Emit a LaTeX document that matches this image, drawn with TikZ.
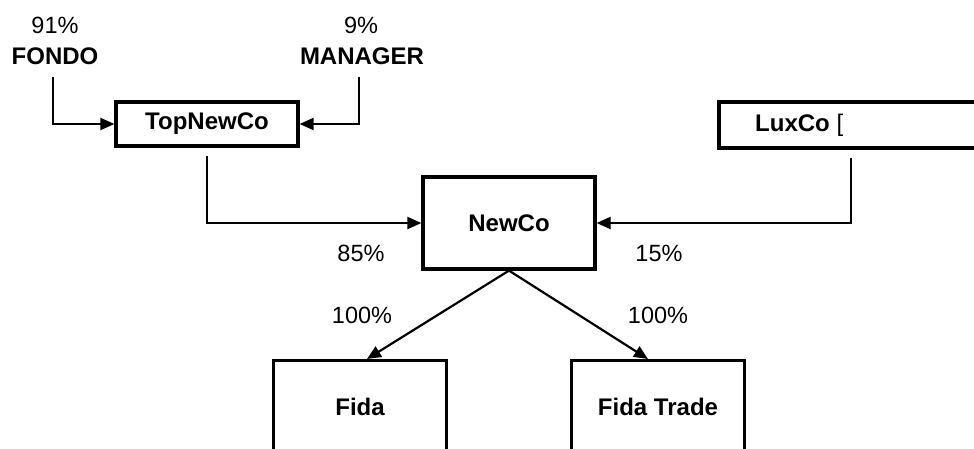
\documentclass[tikz,border=0pt]{standalone}
\usepackage{fontspec}
\setmainfont{Liberation Sans}
\usetikzlibrary{arrows.meta}
\begin{document}
\begin{tikzpicture}[x=1pt,y=-1pt,
  lbl/.style={font=\fontsize{23.5}{27}\selectfont, inner sep=0pt},
  hdr/.style={font=\fontsize{24}{28}\selectfont\bfseries, inner sep=0pt},
  box/.style={draw, line width=3.2pt, font=\fontsize{24}{28}\selectfont\bfseries, inner sep=0pt},
  arr/.style={line width=2.2pt, -{Triangle[length=14pt,width=12pt]}}]
\useasboundingbox (0,0) rectangle (974,449);
\clip (0,0) rectangle (974,449);
% labels
\node[lbl] (p91) at (55,25) {91\%};
\node[hdr] (fondo) at (55,56) {FONDO};
\node[lbl] (p9) at (361,25) {9\%};
\node[hdr] (manager) at (362,56) {MANAGER};
% boxes
\node[box, minimum width=182, minimum height=44] (top) at (207,124) {TopNewCo};
\node[box, minimum width=264, minimum height=46] (lux) at (851,125) {};
\node[hdr, anchor=west] (luxt) at (755,125) {LuxCo \mdseries[};
\node[box, minimum width=172, minimum height=92] (newco) at (509,223) {NewCo};
\node[box, minimum width=173, minimum height=130, anchor=north] (fida) at (360,359) {};
\node[hdr] (fidat) at (360,407) {Fida};
\node[box, minimum width=173, minimum height=130, anchor=north] (trade) at (658,359) {};
\node[hdr] (tradet) at (658,407) {Fida Trade};
% percentages
\node[lbl] (p85) at (361,253) {85\%};
\node[lbl] (p15) at (659,253) {15\%};
\node[lbl] (p100a) at (362,315) {100\%};
\node[lbl] (p100b) at (658,315) {100\%};
% connectors
\coordinate (fondoA) at (53,77);
\coordinate (manA) at (359,77);
\draw[arr] (fondoA) |- (top.west);
\draw[arr] (manA) |- (top.east);
\draw[arr, shorten <=8pt] (top.south) |- (newco.west);
\draw[arr, shorten <=8pt] (lux.south) |- (newco.east);
\draw[arr] (newco.south) -- ([xshift=7pt]fida.north);
\draw[arr] (newco.south) -- ([xshift=-10pt]trade.north);
\end{tikzpicture}
\end{document}
